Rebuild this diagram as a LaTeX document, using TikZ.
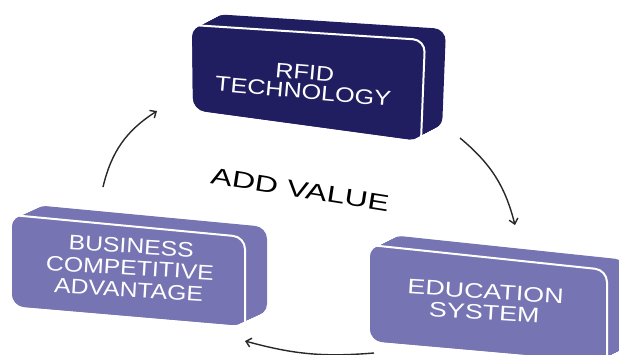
\documentclass[tikz,border=0pt]{standalone}
\usepackage{fontspec}
\setmainfont{Liberation Sans}
\usetikzlibrary{arrows.meta,calc}
\definecolor{navy}{RGB}{32,30,96}
\definecolor{lav}{RGB}{118,116,178}
\definecolor{arrowgray}{RGB}{40,40,40}
\newcommand\myslab[7]{%
  \foreach \k in {0,1,...,20}{%
    \fill[#1, shift={({#6*\k/20},{#7*\k/20})}, rounded corners=12pt] #2 -- #3 -- #4 -- #5 -- cycle;
  }%
  \fill[#1, rounded corners=12pt] #2 -- #3 -- #4 -- #5 -- cycle;
  \draw[white, line width=2pt, rounded corners=12pt] ($#2!0.03!#3$) -- #3 -- ($#4!0.04!#3$);
}
\tikzset{
  boxtext/.style={text=white, align=center, inner sep=0pt},
  cyc/.style={draw=arrowgray, line width=1.4pt, -{Straight Barb[length=5pt,width=9pt]}}
}
\begin{document}
\begin{tikzpicture}[x=1pt,y=1pt]
\useasboundingbox (0,0) rectangle (619,-354);
\clip (0,0) rectangle (619,-354);
% top box
\myslab{navy}{(192,-25)}{(425,-40)}{(421,-141)}{(193,-110)}{21}{11}
% left box
\myslab{lav}{(12,-215)}{(245,-237)}{(245,-326)}{(12,-306)}{22}{10}
% right box
\myslab{lav}{(370,-245)}{(607,-270)}{(607,-362)}{(370,-341)}{20}{10}

\node[boxtext, rotate=-5, xscale=1.2, font=\fontsize{21}{19}\selectfont] (rfid) at (304,-82) {RFID\\TECHNOLOGY};
\node[boxtext, rotate=-3.5, xscale=1.18, font=\fontsize{21}{22}\selectfont] (bca) at (130,-268) {BUSINESS\\COMPETITIVE\\ADVANTAGE};
\node[boxtext, rotate=-3.6, xscale=1.28, font=\fontsize{21}{21}\selectfont] (edu) at (485,-302) {EDUCATION\\SYSTEM};
\node[text=black, inner sep=0pt, rotate=-9, xscale=1.4, font=\fontsize{23}{23}\selectfont] (addvalue) at (300,-190) {ADD VALUE};

\coordinate (a1s) at (103,-187);
\coordinate (a1e) at (157,-111);
\coordinate (a2s) at (460,-138);
\coordinate (a2e) at (515,-225);
\coordinate (a3s) at (374,-353);
\coordinate (a3e) at (245,-341);
\draw[cyc] (a1s) to[bend left=22] (a1e);
\draw[cyc] (a2s) to[bend left=18] (a2e);
\draw[cyc] (a3s) to[bend left=10] (a3e);
\end{tikzpicture}
\end{document}
